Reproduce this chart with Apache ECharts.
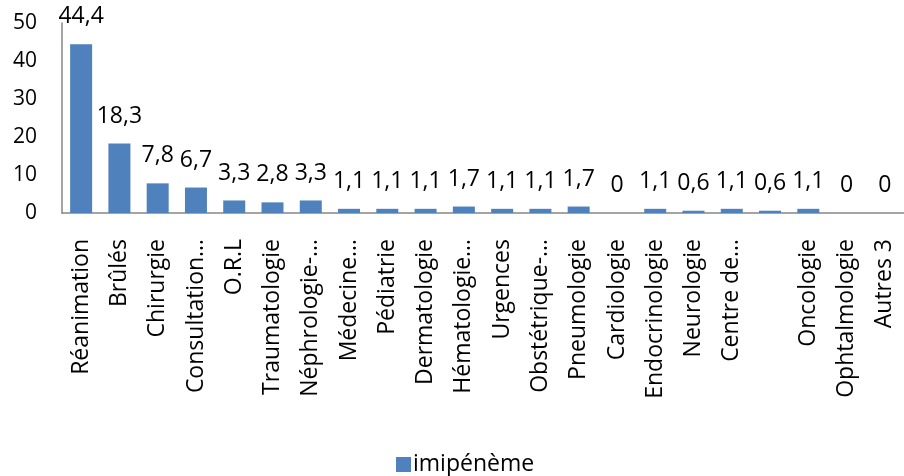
<!DOCTYPE html>
<html>
<head>
<meta charset="utf-8">
<script src="https://cdn.jsdelivr.net/npm/echarts@6/dist/echarts.min.js"></script>
<style>
  html, body { margin: 0; padding: 0; background: #ffffff; }
  #chart { width: 904px; height: 476px; }
</style>
</head>
<body>
<div id="chart"></div>
<script>
// Services (categories) and imipenem resistance percentages
const categories = [
  'Réanimation', 'Brûlés', 'Chirurgie', 'Consultation…', 'O.R.L',
  'Traumatologie', 'Néphrologie-…', 'Médecine…', 'Pédiatrie', 'Dermatologie',
  'Hématologie…', 'Urgences', 'Obstétrique-…', 'Pneumologie', 'Cardiologie',
  'Endocrinologie', 'Neurologie', 'Centre de…', '', 'Oncologie',
  'Ophtalmologie', 'Autres 3'
];
const imipenemValues = [
  44.4, 18.3, 7.8, 6.7, 3.3,
  2.8, 3.3, 1.1, 1.1, 1.1,
  1.7, 1.1, 1.1, 1.7, 0,
  1.1, 0.6, 1.1, 0.6, 1.1,
  0, 0
];
const seriesName = 'imipénème';
const yTicks = { min: 0, max: 50, interval: 10 };

const FONT = 'Open Sans';
const chart = echarts.init(document.getElementById('chart'), null, { renderer: 'canvas' });

chart.setOption({
  animation: false,
  backgroundColor: '#ffffff',
  textStyle: { fontFamily: FONT, color: '#000000' },
  grid: { left: 62, right: -9, top: 23, bottom: 263, containLabel: false },
  legend: {
    top: 448,
    left: 391,
    itemWidth: 15,
    itemHeight: 15,
    itemGap: 4,
    icon: 'rect',
    textStyle: { fontFamily: FONT, fontSize: 23, color: '#000000', padding: [0, 0, 0, -3] },
    data: [seriesName]
  },
  xAxis: {
    type: 'category',
    data: categories,
    axisLine: { show: true, lineStyle: { color: '#868686', width: 1.5 } },
    axisTick: { show: false },
    axisLabel: {
      interval: 0,
      rotate: 90,
      margin: 26,
      fontFamily: FONT,
      fontSize: 23,
      color: '#000000'
    }
  },
  yAxis: {
    type: 'value',
    min: yTicks.min,
    max: yTicks.max,
    interval: yTicks.interval,
    splitLine: { show: false },
    axisLine: { show: true, lineStyle: { color: '#868686', width: 1.5 } },
    axisTick: { show: false },
    axisLabel: { margin: 25, fontFamily: FONT, fontSize: 21, color: '#000000' }
  },
  series: [{
    name: seriesName,
    type: 'bar',
    data: imipenemValues,
    barWidth: 22,
    itemStyle: { color: '#4F81BD' },
    label: {
      show: true,
      position: 'top',
      distance: 16,
      fontFamily: FONT,
      fontSize: 23,
      color: '#000000',
      formatter: p => String(p.value).replace('.', ',')
    }
  }]
});
</script>
</body>
</html>
